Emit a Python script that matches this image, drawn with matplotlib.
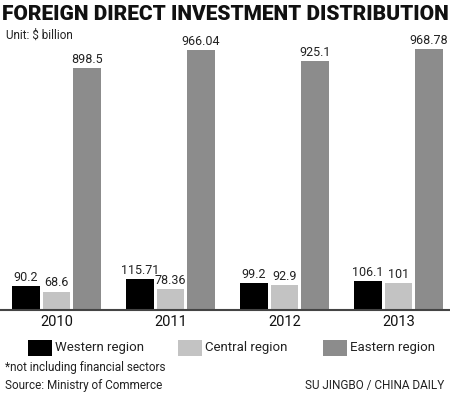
import matplotlib
matplotlib.use('Agg')
import matplotlib.pyplot as plt
from matplotlib.patches import Rectangle

years = ['2010', '2011', '2012', '2013']
western = [90.2, 115.71, 99.2, 106.1]
central = [68.6, 78.36, 92.9, 101]
eastern = [898.5, 966.04, 925.1, 968.78]
western_lbl = ['90.2', '115.71', '99.2', '106.1']
central_lbl = ['68.6', '78.36', '92.9', '101']
eastern_lbl = ['898.5', '966.04', '925.1', '968.78']

body = ['Roboto', 'DejaVu Sans']

fig = plt.figure(figsize=(4.5, 3.99), dpi=100)
fig.patch.set_facecolor('white')

W, H = 450.0, 399.0
# axes: baseline at y=310px, top at y=40px, full width
ax = fig.add_axes([0, (H - 310) / H, 1, 270 / H])
ax.set_xlim(-0.496, 3.452)
ax.set_ylim(0, 1002.5)
ax.axis('off')

bw = 0.24
off = 0.268
x = range(len(years))
series = [(western, western_lbl, '#000000', -off),
          (central, central_lbl, '#c3c3c3', 0),
          (eastern, eastern_lbl, '#8c8c8c', off)]
for vals, lbls, col, dx in series:
    xs = [i + dx for i in x]
    ax.bar(xs, vals, width=bw, color=col, edgecolor='none')
    for xi, v, l in zip(xs, vals, lbls):
        ax.text(xi, v + 8, l, ha='center', va='bottom', fontsize=9,
                family=body, color='#222222')

# baseline
ax.axhline(0, color='#444444', lw=1.5, clip_on=False)

for i, yr in enumerate(years):
    ax.text(i, -20, yr, ha='center', va='top', fontsize=10.5,
            family=body, color='#111111')

fig.text(225 / W, 1 - 14 / H, 'FOREIGN DIRECT INVESTMENT DISTRIBUTION',
         fontsize=15, fontweight='black', family=body, va='center',
         ha='center', color='#111111')
fig.text(6 / W, 1 - 35 / H, 'Unit: $ billion', fontsize=8.5, family=body,
         va='center', color='#222222')

# legend
leg = [('Western region', '#000000', 28), ('Central region', '#c3c3c3', 178),
       ('Eastern region', '#8c8c8c', 323)]
for name, col, px in leg:
    fig.add_artist(Rectangle((px / W, 1 - 356 / H), 24 / W, 16 / H,
                             transform=fig.transFigure, color=col, lw=0))
    fig.text((px + 27) / W, 1 - 348 / H, name, fontsize=9.5, family=body,
             va='center', color='#222222')

fig.text(5 / W, 1 - 368 / H, '*not including financial sectors', fontsize=8.5,
         family=body, va='center', color='#222222')
fig.text(5 / W, 1 - 386 / H, 'Source: Ministry of Commerce', fontsize=8.5,
         family=body, va='center', color='#222222')
fig.text(444 / W, 1 - 386 / H, 'SU JINGBO / CHINA DAILY', fontsize=8.5,
         family=body, va='center', ha='right', color='#222222')

fig.savefig('out.png', dpi=100)
